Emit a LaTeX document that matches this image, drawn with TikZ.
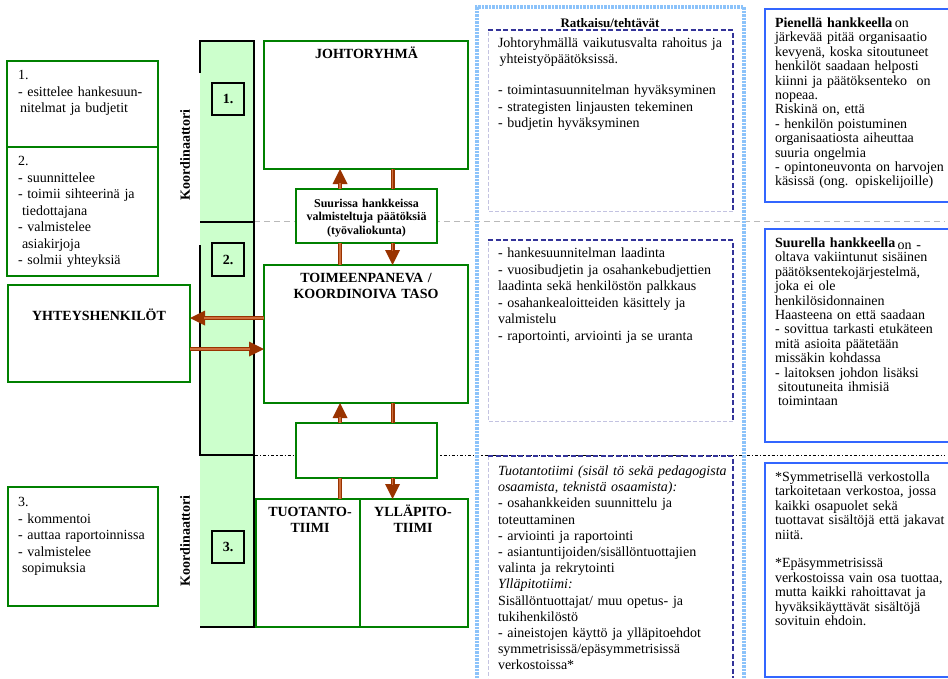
\documentclass[tikz,border=0pt]{standalone}
\usepackage{fontspec}
\setmainfont{Liberation Serif}
\usetikzlibrary{arrows.meta}
\definecolor{grn}{RGB}{0,128,0}
\definecolor{lgrn}{RGB}{204,255,204}
\definecolor{brn}{RGB}{153,51,0}
\definecolor{brnl}{RGB}{205,110,60}
\definecolor{bluebox}{RGB}{51,102,255}
\definecolor{lblue}{RGB}{140,195,250}
\definecolor{navyd}{RGB}{51,51,153}
\definecolor{lav}{RGB}{195,195,225}
\definecolor{sepg}{RGB}{185,185,185}
\begin{document}
\begin{tikzpicture}[x=1pt,y=-1pt,
  every node/.style={inner sep=0pt, outer sep=0pt},
  gbox/.style={draw=grn, line width=1.5pt, fill=white, anchor=north west},
  nbox/.style={draw=black, line width=1.5pt, minimum width=32pt, minimum height=32pt, font=\fontsize{14}{16}\selectfont\bfseries},
  bluebx/.style={draw=bluebox, line width=2pt, fill=white, anchor=north west},
  body/.style={anchor=base west, text width=#1, align=left, font=\fontsize{14}{16.5}\selectfont},
  rbody/.style={anchor=base west, text width=180pt, align=left, font=\fontsize{14}{14.4}\selectfont},
  ttl/.style={anchor=base, text width=#1, align=center, font=\fontsize{14}{16}\selectfont\bfseries},
  arr/.style={draw=brn, line width=4pt, -{Triangle[length=15pt,width=15pt,line width=0pt]}, postaction={draw=brnl, line width=1.2pt, -, shorten >=14pt}},
  ln/.style={draw=brn, line width=4pt, postaction={draw=brnl, line width=1.2pt}},
  sepline/.style={sepg, line width=1pt, dash pattern=on 6pt off 4pt},
  dotline/.style={black, line width=1.6pt, dash pattern=on 3pt off 2pt on 1.2pt off 2pt},
  frame/.style={lblue, line width=3.5pt, dash pattern=on 2.5pt off 1pt},
  lavd/.style={lav, line width=0.8pt, dash pattern=on 4pt off 2pt},
  navyline/.style={navyd, line width=2.6pt, dash pattern=on 5pt off 2.5pt},
  colline/.style={black, line width=1.5pt}
]
\useasboundingbox (0,0) rectangle (948,678);

% separators
\draw[sepline] (254,221) -- (945,221);
\draw[dotline] (255,455.5) -- (945,455.5);

% coordinator column
\fill[lgrn] (200,41) rectangle (254,627);
\draw[colline] (200,73) -- (200,41) -- (254,41) -- (254,627) -- (200,627);
\draw[colline] (200,245) -- (200,455) -- (254,455);
\draw[colline] (200,222) -- (254,222);
\node[rotate=90, font=\fontsize{14}{16}\selectfont\bfseries] (koord1) at (185,155) {Koordinaattori};
\node[rotate=90, font=\fontsize{14}{16}\selectfont\bfseries] (koord2) at (185,541) {Koordinaattori};
\node[nbox] (n1) at (228,99) {1.};
\node[nbox, minimum height=33pt] (n2) at (228,259.5) {2.};
\node[nbox] (n3) at (228,547) {3.};

% left boxes
\node[gbox, minimum width=151pt, minimum height=86pt] (lb1) at (7,61) {};
\node[gbox, minimum width=151pt, minimum height=129pt] (lb2) at (7,147) {};
\node[gbox, minimum width=182pt, minimum height=97pt] (yht) at (8,285) {};
\node[gbox, minimum width=150pt, minimum height=119pt] (lb3) at (8,487) {};
\node[body=150pt] (lt1) at (18,79.5) {1.\\- esittelee hankesuun-\\\hspace*{2pt}nitelmat ja budjetit};
\node[body=150pt] (lt2) at (18,165.5) {2.\\- suunnittelee\\- toimii sihteerinä ja\\\hspace*{4pt}tiedottajana\\- valmistelee\\\hspace*{4pt}asiakirjoja\\- solmii yhteyksiä};
\node[body=150pt] (lt3) at (18,506.5) {3.\\- kommentoi\\- auttaa raportoinnissa\\- valmistelee\\\hspace*{4pt}sopimuksia};
\node[ttl=180pt] (yhtT) at (99,320) {YHTEYSHENKILÖT};

% central boxes
\node[gbox, minimum width=204pt, minimum height=128pt] (joht) at (264,41) {};
\node[gbox, minimum width=141pt, minimum height=54pt] (suur) at (296,189) {};
\node[gbox, minimum width=204pt, minimum height=138pt] (toim) at (264,265) {};
\node[gbox, minimum width=141pt, minimum height=55pt] (emp) at (296,423) {};
\node[gbox, minimum width=105pt, minimum height=128pt] (tuot) at (256,499) {};
\node[gbox, minimum width=108pt, minimum height=128pt] (yll) at (360,499) {};
\node[ttl=200pt] (johtT) at (366.5,58) {JOHTORYHMÄ};
\node[anchor=base, text width=140pt, align=center, font=\fontsize{12}{13.5}\selectfont\bfseries] (suurT) at (366.5,207) {Suurissa hankkeissa\\valmisteltuja päätöksiä\\(työvaliokunta)};
\node[ttl=200pt] (toimT) at (366,282) {TOIMEENPANEVA /\\KOORDINOIVA TASO};
\node[ttl=100pt] (tuotT) at (310,516) {TUOTANTO-\\TIIMI};
\node[ttl=104pt] (yllT) at (413,516) {YLLÄPITO-\\TIIMI};

% solution frame
\draw[frame] (477,678) -- (477,7) -- (744,7) -- (744,678);
\node[anchor=base, font=\fontsize{13}{15}\selectfont\bfseries] (ratk) at (610,27) {Ratkaisu/tehtävät};
\draw[lavd] (733,211) -- (488,211) -- (488,30);
\draw[navyline] (488,30) -- (733,30) -- (733,211);
\draw[lavd] (733,421) -- (488,421) -- (488,240);
\draw[navyline] (488,240) -- (733,240) -- (733,421);
\draw[lavd] (488,456) -- (488,678);
\draw[navyline] (488,456) -- (733,456) -- (733,678);
\node[body=240pt, font=\fontsize{14}{16.4}\selectfont] (ta) at (498,47.5) {Johtoryhmällä vaikutusvalta rahoitus ja\\\hspace*{1.5pt}yhteistyöpäätöksissä.\\[14.5pt]- toimintasuunnitelman hyväksyminen\\- strategisten linjausten tekeminen\\- budjetin hyväksyminen};
\node[body=240pt, font=\fontsize{14}{16.6}\selectfont] (tb) at (498,257.5) {- hankesuunnitelman laadinta\\- vuosibudjetin ja osahankebudjettien\\laadinta sekä henkilöstön palkkaus\\- osahankealoitteiden käsittely ja\\valmistelu\\- raportointi, arviointi ja se uranta};
\node[body=240pt, font=\fontsize{14}{16.2}\selectfont] (tc) at (498,475.5) {\textit{Tuotantotiimi (sisäl tö sekä pedagogista}\\\textit{osaamista, teknistä osaamista):}\\- osahankkeiden suunnittelu ja\\toteuttaminen\\- arviointi ja raportointi\\- asiantuntijoiden/sisällöntuottajien\\valinta ja rekrytointi\\\textit{Ylläpitotiimi:}\\Sisällöntuottajat/ muu opetus- ja\\tukihenkilöstö\\- aineistojen käyttö ja ylläpitoehdot\\symmetrisissä/epäsymmetrisissä\\verkostoissa*};

% right boxes
\node[bluebx, minimum width=187pt, minimum height=193pt] (r1) at (765,9) {};
\node[bluebx, minimum width=187pt, minimum height=213pt] (r2) at (765,229) {};
\node[bluebx, minimum width=187pt, minimum height=214pt] (r3) at (765,463) {};
\node[rbody] (tr1) at (775,27.5) {\textbf{Pienellä hankkeella}\,on\\järkevää pitää organisaatio\\kevyenä, koska sitoutuneet\\henkilöt saadaan helposti\\kiinni ja päätöksenteko\ \ on\\nopeaa.\\Riskinä on, että\\- henkilön poistuminen\\organisaatiosta aiheuttaa\\suuria ongelmia\\- opintoneuvonta on harvojen\\käsissä (ong. opiskelijoille)};
\node[rbody] (tr2) at (775,247.5) {\textbf{Suurella hankkeella}\,\raisebox{-1.5pt}{on -}\\oltava vakiintunut sisäinen\\päätöksentekojärjestelmä,\\joka ei ole\\henkilösidonnainen\\Haasteena on että saadaan\\- sovittua tarkasti etukäteen\\mitä asioita päätetään\\missäkin kohdassa\\- laitoksen johdon lisäksi\\\hspace*{3pt}sitoutuneita ihmisiä\\\hspace*{3pt}toimintaan};
\node[rbody] (tr3) at (775,481.5) {*Symmetrisellä verkostolla\\tarkoitetaan verkostoa, jossa\\kaikki osapuolet sekä\\tuottavat sisältöjä että jakavat\\niitä.\\[14.4pt]*Epäsymmetrisissä\\verkostoissa vain osa tuottaa,\\mutta kaikki rahoittavat ja\\hyväksikäyttävät sisältöjä\\sovituin ehdoin.};

% connectors
\coordinate (cL) at (340,0);
\coordinate (cR) at (392.5,0);
\coordinate (yA) at (0,318);
\coordinate (yB) at (0,349);
\draw[arr] (cL |- suur.north) -- (cL |- joht.south);
\draw[ln] (cR |- joht.south) -- (cR |- suur.north);
\draw[ln] (cL |- suur.south) -- (cL |- toim.north);
\draw[arr] (cR |- suur.south) -- (cR |- toim.north);
\draw[arr] (cL |- emp.north) -- (cL |- toim.south);
\draw[ln] (cR |- toim.south) -- (cR |- emp.north);
\draw[ln] (cL |- emp.south) -- (cL |- tuot.north);
\draw[arr] (cR |- emp.south) -- (cR |- yll.north);
\draw[arr] (toim.west |- yA) -- (yht.east |- yA);
\draw[arr] (yht.east |- yB) -- (toim.west |- yB);
\end{tikzpicture}
\end{document}
